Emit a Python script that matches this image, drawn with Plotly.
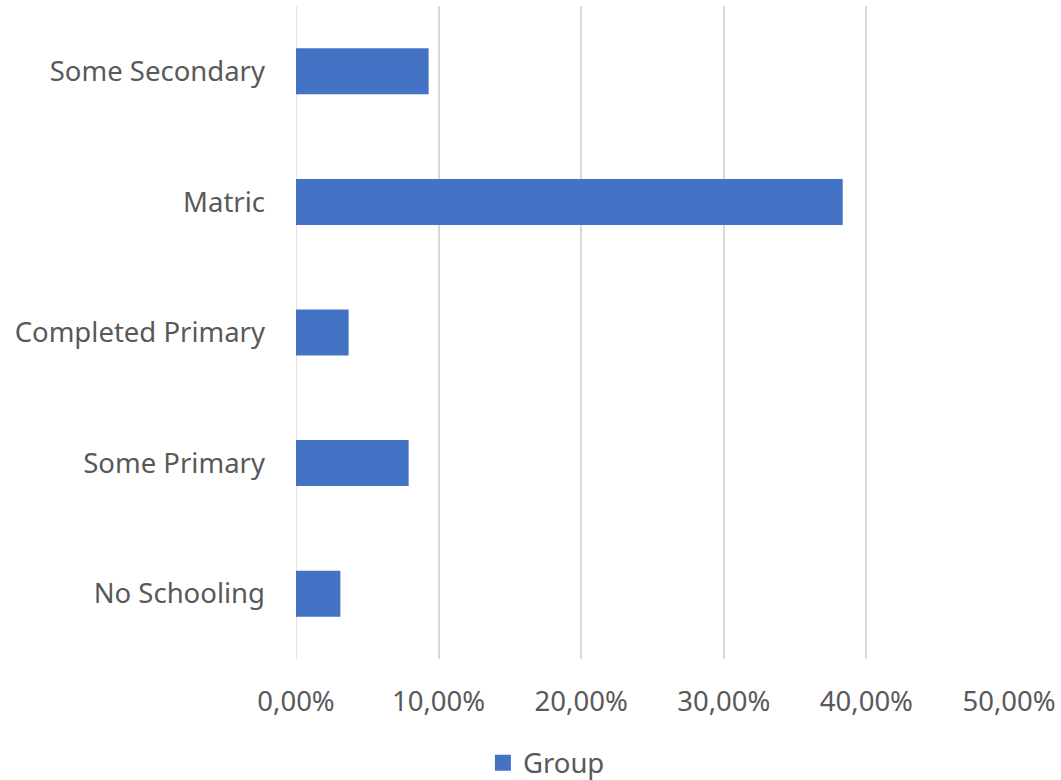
import plotly.graph_objects as go

categories = ["No Schooling", "Some Primary", "Completed Primary", "Matric", "Some Secondary"]
values = [0.0311, 0.0790, 0.0369, 0.3834, 0.0930]
tick_vals = [0, 0.1, 0.2, 0.3, 0.4, 0.5]
tick_text = ["0,00%", "10,00%", "20,00%", "30,00%", "40,00%", "50,00%"]
series_name = "Group"

FONT = "Noto Sans"
GREY = "#595959"
BLUE = "#4472C4"
FS = 27.5

fig = go.Figure()
fig.add_trace(go.Bar(
    y=categories, x=values, orientation="h", name=series_name,
    marker=dict(color=BLUE, line=dict(width=0)),
    showlegend=False,
))
# legend entry with a larger square swatch
fig.add_trace(go.Scatter(
    x=[None], y=[None], mode="markers", name=series_name,
    marker=dict(symbol="square", size=18, color=BLUE),
    showlegend=True, hoverinfo="skip",
))

fig.update_layout(
    width=1061, height=780,
    margin=dict(l=296, r=52, t=6, b=121),
    paper_bgcolor="white", plot_bgcolor="white",
    bargap=0.648,
    font=dict(family=FONT, size=FS, color=GREY),
    xaxis=dict(
        range=[0, 0.5], tickvals=tick_vals, ticktext=tick_text,
        showgrid=True, gridcolor="#D9D9D9", gridwidth=1.5,
        zeroline=False, showline=False, ticks="",
        tickfont=dict(family=FONT, size=FS, color=GREY),
        ticklabelstandoff=23,
    ),
    yaxis=dict(
        categoryorder="array", categoryarray=categories,
        showgrid=False, zeroline=False, showline=False,
        ticks="", ticklabelstandoff=30,
        tickfont=dict(family=FONT, size=FS, color=GREY),
    ),
    legend=dict(
        orientation="h", xref="container", yref="container",
        x=0.515, y=0.022, xanchor="center", yanchor="middle",
        font=dict(family=FONT, size=FS, color=GREY),
        itemwidth=30,
    ),
)
fig.add_shape(type="line", xref="x", yref="paper", x0=0, x1=0, y0=0, y1=1,
              line=dict(color="#D9D9D9", width=1.5), layer="below")

fig.write_html("out.html", config={"displayModeBar": False},
               post_script="document.body.style.margin='0';")
